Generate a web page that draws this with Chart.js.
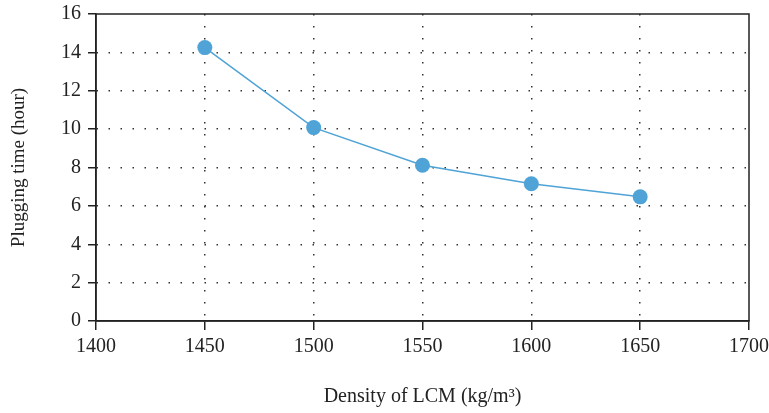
<!DOCTYPE html>
<html>
<head>
<meta charset="utf-8">
<script src="https://cdn.jsdelivr.net/npm/chart.js@4"></script>
<style>
  html, body { margin: 0; padding: 0; background: #fff; }
  #wrap { width: 769px; height: 413px; }
</style>
</head>
<body>
<div id="wrap"><canvas id="plugChart" width="769" height="413"></canvas></div>
<script>
// density of LCM (kg/m3) vs plugging time (hour)
const densities = [1450, 1500, 1550, 1600, 1650];
const pluggingTimes = [14.25, 10.08, 8.12, 7.15, 6.47];
const xRange = [1400, 1700];
const yRange = [0, 16];

const blue = '#4fa3d6';
const serif = "'Liberation Serif', 'DejaVu Serif', serif";

// closes the box around the plot area (top and right edges)
const frame = {
  id: 'frame',
  afterDraw(chart) {
    const { ctx, chartArea: a } = chart;
    ctx.save();
    ctx.strokeStyle = '#222';
    ctx.lineWidth = 1.5;
    ctx.strokeRect(a.left, a.top, a.right - a.left, a.bottom - a.top);
    ctx.restore();
  }
};

function gridColor(ctx) {
  const n = ctx.scale.ticks.length;
  return (ctx.index === 0 || ctx.index === n - 1) ? 'rgba(0,0,0,0)' : '#333';
}

const ctx = document.getElementById('plugChart').getContext('2d');
new Chart(ctx, {
  type: 'line',
  data: {
    datasets: [{
      data: densities.map((d, i) => ({ x: d, y: pluggingTimes[i] })),
      borderColor: blue,
      backgroundColor: blue,
      borderWidth: 1.5,
      pointRadius: 7.5,
      pointHoverRadius: 7.5,
      pointBorderWidth: 0,
      tension: 0
    }]
  },
  options: {
    responsive: false,
    animation: false,
    events: [],
    layout: { padding: { top: 14, right: 20, left: 0, bottom: 0 } },
    plugins: { legend: { display: false }, tooltip: { enabled: false } },
    scales: {
      x: {
        type: 'linear',
        min: xRange[0],
        max: xRange[1],
        afterFit: s => { s.height = 92; s.paddingLeft = 0; s.paddingRight = 0; },
        ticks: {
          stepSize: 50,
          color: '#222',
          padding: 5,
          font: { family: serif, size: 20 },
          callback: v => String(v)
        },
        grid: {
          color: gridColor,
          lineWidth: 1.5,
          borderDash: [1.5, 10.5],
          drawTicks: true,
          tickLength: 9,
          tickColor: '#222',
          tickWidth: 1.5
        },
        border: { display: true, color: '#222', width: 1.5, dash: [1.5, 10.5] },
        title: {
          display: true,
          text: 'Density of LCM (kg/m³)',
          color: '#222',
          padding: { top: 0, bottom: 4 },
          font: { family: serif, size: 20 }
        }
      },
      y: {
        min: yRange[0],
        max: yRange[1],
        afterFit: s => { s.width = 96; s.paddingTop = 0; s.paddingBottom = 0; },
        ticks: { stepSize: 2, color: '#222', padding: 7, font: { family: serif, size: 20 } },
        grid: {
          color: gridColor,
          lineWidth: 1.5,
          borderDash: [1.5, 10.5],
          drawTicks: true,
          tickLength: 8,
          tickColor: '#222',
          tickWidth: 1.5
        },
        border: { display: true, color: '#222', width: 1.5, dash: [1.5, 10.5] },
        title: {
          display: true,
          text: 'Plugging time (hour)',
          color: '#222',
          padding: { top: 8, bottom: 0 },
          font: { family: serif, size: 19 }
        }
      }
    }
  },
  plugins: [frame]
});
</script>
</body>
</html>
